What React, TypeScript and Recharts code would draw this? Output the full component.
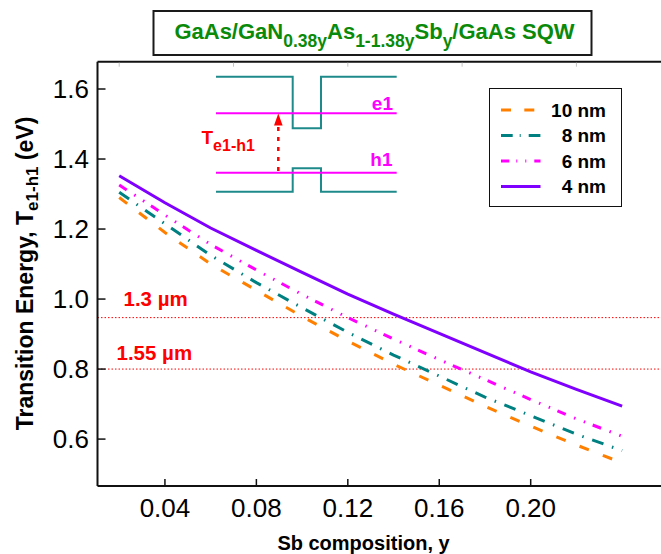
import { Legend, Line, LineChart, ReferenceLine, XAxis, YAxis } from "recharts";

const FONT = "'Liberation Sans', Arial, Helvetica, sans-serif";

// Sb composition, y
const sbComposition = [0.02, 0.04, 0.06, 0.08, 0.1, 0.12, 0.14, 0.16, 0.18, 0.2, 0.22, 0.24];

// transition energy T(e1-h1), eV, per well width
const well10nm = [1.29, 1.19, 1.1, 1.025, 0.95, 0.88, 0.814, 0.754, 0.694, 0.637, 0.583, 0.532];
const well8nm = [1.305, 1.215, 1.125, 1.047, 0.975, 0.905, 0.84, 0.78, 0.72, 0.667, 0.614, 0.567];
const well6nm = [1.326, 1.24, 1.156, 1.083, 1.013, 0.947, 0.886, 0.827, 0.77, 0.713, 0.658, 0.608];
const well4nm = [1.352, 1.275, 1.203, 1.139, 1.076, 1.014, 0.957, 0.902, 0.847, 0.792, 0.742, 0.694];

const xTicks = [0.04, 0.08, 0.12, 0.16, 0.2];
const topTicks = [0.02, 0.07, 0.12, 0.17, 0.22];
const yTicks = [0.6, 0.8, 1.0, 1.2, 1.4, 1.6];

// telecom wavelengths, eV
const wavelengthLines = [
  { label: "1.3 µm", value: 0.947, dx: 26, dy: -12 },
  { label: "1.55 µm", value: 0.8, dx: 19, dy: -9 },
];

const SERIES = [
  { key: "w10", name: "10 nm", color: "#ff8000", dash: "10 15", legendDash: "10 13.3", legendLen: 34 },
  { key: "w8", name: "8 nm", color: "#008080", dash: "12 9 1.5 9", legendDash: "11.7 7 1 8", legendLen: 39.5 },
  { key: "w6", name: "6 nm", color: "#ff00ff", dash: "9 9 1.5 9 1.5 8", legendDash: "8.3 7 1 8 1 8", legendLen: 39.5 },
  { key: "w4", name: "4 nm", color: "#8000ff", dash: undefined, legendDash: undefined, legendLen: 39.5 },
];

const data = sbComposition.map((y, i) => ({
  y,
  w10: well10nm[i],
  w8: well8nm[i],
  w6: well6nm[i],
  w4: well4nm[i],
}));

// plot frame edges (px), used to draw the inward-pointing ticks
const LEFT = 97.5;
const TOP = 61.7;
const BOTTOM = 486;

function YTick(props: any) {
  const { y, payload } = props;
  return (
    <g>
      <line x1={LEFT} x2={LEFT + 8} y1={y} y2={y} stroke="#111" strokeWidth={1.5} />
      <text x={LEFT - 8.5} y={y} dy="0.36em" textAnchor="end" fill="#000" fontSize={26} fontFamily={FONT}>
        {Number(payload.value).toFixed(1)}
      </text>
    </g>
  );
}

function XTick(props: any) {
  const { x, payload } = props;
  return (
    <g>
      <line x1={x} x2={x} y1={BOTTOM} y2={BOTTOM - 7} stroke="#111" strokeWidth={1.5} />
      <text x={x} y={BOTTOM + 12.5} dy="0.71em" textAnchor="middle" fill="#000" fontSize={26} fontFamily={FONT}>
        {Number(payload.value).toFixed(2)}
      </text>
    </g>
  );
}

function TopTick(props: any) {
  const { x } = props;
  return <line x1={x} x2={x} y1={TOP + 1} y2={TOP + 5} stroke="#c4c4c4" strokeWidth={1} />;
}

function LegendBox() {
  return (
    <div
      style={{
        width: 133,
        height: 119,
        border: "1.5px solid #111",
        boxSizing: "border-box",
        background: "#fff",
      }}
    >
      <svg width={130} height={116} style={{ display: "block" }}>
        {SERIES.map((s, i) => {
          const cy = 21 + i * 25.5;
          return (
            <g key={s.key}>
              <line
                x1={11}
                x2={11 + s.legendLen}
                y1={cy}
                y2={cy}
                stroke={s.color}
                strokeWidth={3}
                strokeDasharray={s.legendDash}
              />
              <text
                x={116}
                y={cy}
                dy="0.36em"
                textAnchor="end"
                fontFamily={FONT}
                fontWeight="bold"
                fontSize={19}
                fill="#000"
              >
                {s.name}
              </text>
            </g>
          );
        })}
      </svg>
    </div>
  );
}

function WaveLabel(props: any) {
  const { viewBox, text, dx, dy } = props;
  if (!viewBox) return null;
  return (
    <text
      x={viewBox.x + dx}
      y={viewBox.y + dy}
      fill="#ff0000"
      fontFamily={FONT}
      fontWeight="bold"
      fontSize={20.5}
    >
      {text}
    </text>
  );
}

function Overlay() {
  const teal = "#1f8a8a";
  const mag = "#ff00ff";
  return (
    <svg
      width={661}
      height={554}
      style={{ position: "absolute", left: 0, top: 0, pointerEvents: "none" }}
      fontFamily={FONT}
    >
      {/* title */}
      <rect x={153.5} y={11} width={438} height={44} fill="#fff" stroke="#1a1a1a" strokeWidth={2} />
      <text x={374.5} y={38.5} textAnchor="middle" fontWeight="bold" fontSize={22} fill="#0a8a0a">
        GaAs/GaN
        <tspan dy={8} fontSize={17.5}>0.38y</tspan>
        <tspan dy={-8}>As</tspan>
        <tspan dy={8} fontSize={17.5}>1-1.38y</tspan>
        <tspan dy={-8}>Sb</tspan>
        <tspan dy={8} fontSize={17.5}>y</tspan>
        <tspan dy={-8}>/GaAs SQW</tspan>
      </text>

      {/* band diagram inset */}
      <polyline
        points="216,76.7 292.7,76.7 292.7,128.3 321,128.3 321,76.7 396.7,76.7"
        fill="none"
        stroke={teal}
        strokeWidth={2}
      />
      <polyline
        points="216,191.7 292.7,191.7 292.7,168.3 321,168.3 321,191.7 396.7,191.7"
        fill="none"
        stroke={teal}
        strokeWidth={2}
      />
      <line x1={216} x2={396.7} y1={113.3} y2={113.3} stroke={mag} strokeWidth={2} />
      <line x1={216} x2={396.7} y1={172.7} y2={172.7} stroke={mag} strokeWidth={2} />
      <text x={393} y={110} textAnchor="end" fontWeight="bold" fontSize={19} fill={mag}>e1</text>
      <text x={392.5} y={166} textAnchor="end" fontWeight="bold" fontSize={19} fill={mag}>h1</text>
      <line x1={278.3} x2={278.3} y1={171} y2={125} stroke="#ff0000" strokeWidth={2.5} strokeDasharray="4 6" />
      <polygon points="278.3,113.5 274,125.5 282.6,125.5" fill="#ff0000" />
      <text x={201.5} y={143.5} fontWeight="bold" fontSize={19} fill="#ff0000">
        T<tspan dy={7} fontSize={16}>e1-h1</tspan>
      </text>

      {/* axis titles */}
      <text
        transform="translate(32.5,273.5) rotate(-90)"
        textAnchor="middle"
        fontWeight="bold"
        fontSize={23}
        fill="#000"
      >
        Transition Energy, T
        <tspan dy={5} fontSize={17}>e1-h1</tspan>
        <tspan dy={-5}> (eV)</tspan>
      </text>
      <text x={363.5} y={550} textAnchor="middle" fontWeight="bold" fontSize={20} fill="#000">
        Sb composition, y
      </text>
    </svg>
  );
}

export default function App() {
  return (
    <div
      style={{
        position: "absolute",
        left: 0,
        top: 0,
        width: 661,
        height: 554,
        overflow: "hidden",
        background: "#fff",
        fontFamily: FONT,
      }}
    >
      <LineChart width={661} height={554} data={data} margin={{ top: 60.7, right: 0, bottom: 38, left: 37.5 }}>
        <XAxis
          xAxisId="top"
          orientation="top"
          type="number"
          dataKey="y"
          domain={[0.0105, 0.257]}
          allowDataOverflow
          ticks={topTicks}
          height={1}
          tickLine={false}
          axisLine={{ stroke: "#111", strokeWidth: 2 }}
          tick={<TopTick />}
        />
        <XAxis
          type="number"
          dataKey="y"
          domain={[0.0105, 0.257]}
          allowDataOverflow
          ticks={xTicks}
          height={30}
          tickLine={false}
          axisLine={{ stroke: "#111", strokeWidth: 2 }}
          tick={<XTick />}
        />
        <YAxis
          type="number"
          domain={[0.466, 1.678]}
          allowDataOverflow
          ticks={yTicks}
          width={60}
          tickLine={false}
          axisLine={{ stroke: "#111", strokeWidth: 2 }}
          tick={<YTick />}
        />
        {wavelengthLines.map((w) => (
          <ReferenceLine
            key={w.label}
            y={w.value}
            stroke="#ff0000"
            strokeWidth={1}
            strokeDasharray="1.5 2"
            label={<WaveLabel text={w.label} dx={w.dx} dy={w.dy} />}
          />
        ))}
        {SERIES.map((s) => (
          <Line
            key={s.key}
            dataKey={s.key}
            name={s.name}
            type="linear"
            stroke={s.color}
            strokeWidth={3}
            strokeDasharray={s.dash}
            dot={false}
            activeDot={false}
            isAnimationActive={false}
          />
        ))}
        <Legend
          layout="vertical"
          align="center"
          verticalAlign="middle"
          wrapperStyle={{ left: 489, top: 88, width: 133, height: 119 }}
          content={() => <LegendBox />}
        />
      </LineChart>
      <Overlay />
    </div>
  );
}
